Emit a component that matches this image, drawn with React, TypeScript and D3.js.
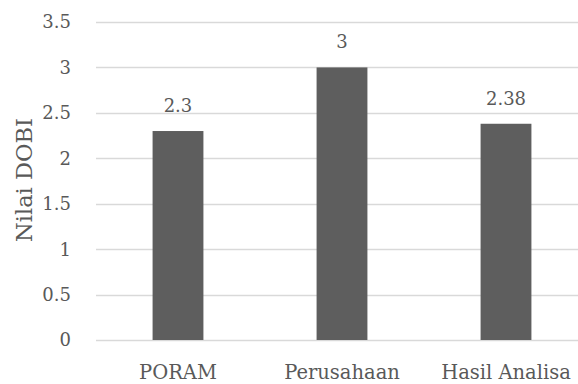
import React, { useEffect, useRef } from 'react';
import * as d3 from 'd3';

const categories = ['PORAM', 'Perusahaan', 'Hasil Analisa'];
const values = [2.3, 3, 2.38];
const valueLabels = ['2.3', '3', '2.38'];
const yTicks = [0, 0.5, 1, 1.5, 2, 2.5, 3, 3.5];
const yTitle = 'Nilai DOBI';

const App = () => {
  const ref = useRef<SVGSVGElement | null>(null);

  useEffect(() => {
    if (ref.current) drawChart(ref.current);
  }, []);

  return <svg ref={ref} width={578} height={384} style={{ position: 'absolute', left: 0, top: 0 }} />;
};

function drawChart(node: SVGSVGElement) {
  const svg = d3.select(node);
  svg.selectAll('*').remove();

  const width = 578;
  const font = '"DejaVu Serif", serif';
  const textColor = '#595959';

  // scales
  const x = d3.scaleBand<string>()
    .domain(categories)
    .range([96, 588])
    .paddingInner(0.69)
    .paddingOuter(0.345);

  const y = d3.scaleLinear()
    .domain([0, 3.5])
    .range([340, 22]);

  // gridlines
  svg.append('g')
    .selectAll('line')
    .data(yTicks)
    .enter()
    .append('line')
    .attr('x1', 96)
    .attr('x2', width)
    .attr('y1', d => Math.round(y(d)) + 0.5)
    .attr('y2', d => Math.round(y(d)) + 0.5)
    .attr('stroke', '#d9d9d9')
    .attr('stroke-width', 1.5);

  // y tick labels
  svg.append('g')
    .selectAll('text')
    .data(yTicks)
    .enter()
    .append('text')
    .attr('x', 71)
    .attr('y', d => y(d))
    .attr('dy', '0.36em')
    .attr('text-anchor', 'end')
    .style('font-family', font)
    .style('font-size', '18px')
    .style('fill', textColor)
    .text(d => String(d));

  // bars
  svg.append('g')
    .selectAll('rect')
    .data(values)
    .enter()
    .append('rect')
    .attr('x', (d, i) => x(categories[i]) as number)
    .attr('y', d => y(d))
    .attr('width', x.bandwidth())
    .attr('height', d => y(0) - y(d))
    .attr('fill', '#5e5e5e');

  // value labels
  svg.append('g')
    .selectAll('text')
    .data(values)
    .enter()
    .append('text')
    .attr('x', (d, i) => (x(categories[i]) as number) + x.bandwidth() / 2)
    .attr('y', d => y(d) - 19)
    .attr('text-anchor', 'middle')
    .style('font-family', font)
    .style('font-size', '18px')
    .style('fill', textColor)
    .text((d, i) => valueLabels[i]);

  // category labels
  svg.append('g')
    .selectAll('text')
    .data(categories)
    .enter()
    .append('text')
    .attr('x', d => (x(d) as number) + x.bandwidth() / 2)
    .attr('y', 379)
    .attr('text-anchor', 'middle')
    .style('font-family', font)
    .style('font-size', '19.5px')
    .style('fill', textColor)
    .text(d => d);

  // axis title
  svg.append('text')
    .attr('transform', 'translate(32,180) rotate(-90)')
    .attr('text-anchor', 'middle')
    .style('font-family', font)
    .style('font-size', '22.5px')
    .style('fill', textColor)
    .text(yTitle);
}

export default App;
